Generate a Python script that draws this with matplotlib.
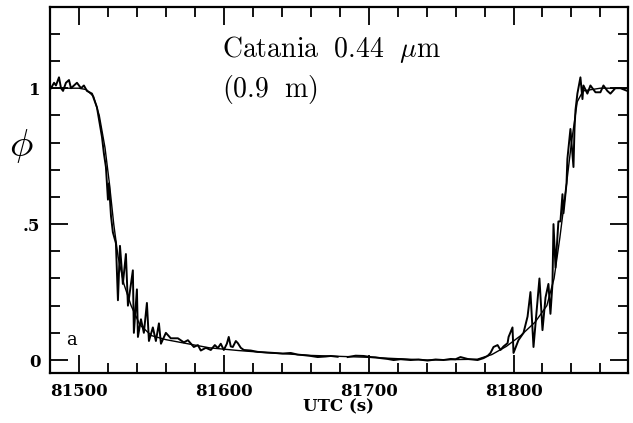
import matplotlib
matplotlib.use('Agg')
import matplotlib.pyplot as plt
import numpy as np

plt.rcParams['mathtext.fontset'] = 'cm'

# observed light curve (UTC seconds, normalised flux)
utc = [81480.7, 81482.8, 81484.1, 81486.2, 81487.6, 81489.0, 81491.0, 81493.1,
       81494.5, 81496.6, 81498.6, 81501.4, 81503.4, 81505.5, 81509.0, 81512.4,
       81515.9, 81517.2, 81518.6, 81520.0, 81520.7, 81522.1, 81523.4, 81525.5,
       81526.9, 81528.3, 81530.3, 81532.4, 81533.8, 81537.2, 81537.9, 81540.0,
       81540.7, 81542.8, 81544.8, 81546.9, 81548.3, 81551.0, 81553.1, 81555.2,
       81556.6, 81560.0, 81563.4, 81568.3, 81572.4, 81575.2, 81579.3, 81582.1,
       81584.1, 81587.6, 81591.0, 81593.8, 81595.9, 81597.9, 81600.0, 81602.1,
       81603.4, 81604.8, 81606.2, 81608.3, 81609.7, 81611.7, 81613.8, 81618.6,
       81623.4, 81629.0, 81634.5, 81640.7, 81646.2, 81651.0, 81655.2, 81660.0,
       81664.8, 81670.3, 81673.8, 81678.6, 81682.0, 81685.5, 81691.0, 81696.6,
       81701.4, 81704.8, 81708.3, 81713.1, 81717.2, 81722.1, 81729.0, 81734.5,
       81740.7, 81746.2, 81751.7, 81756.6, 81760.0, 81763.4, 81768.3, 81775.2,
       81779.3, 81782.1, 81784.1, 81786.2, 81789.0, 81791.0, 81793.1, 81795.9,
       81796.6, 81799.3, 81800.0, 81803.4, 81806.9, 81809.7, 81811.7, 81813.8,
       81815.2, 81817.9, 81820.0, 81822.1, 81824.1, 81825.5, 81826.9, 81827.6,
       81829.0, 81831.0, 81832.4, 81833.8, 81834.5, 81836.6, 81837.2, 81839.3,
       81841.4, 81842.1, 81842.8, 81844.1, 81846.2, 81847.6, 81848.3, 81851.0,
       81853.1, 81856.6, 81860.0, 81862.1, 81864.8, 81866.9, 81870.3, 81873.8,
       81878.6]
flux = [1.00, 1.02, 1.01, 1.04, 1.00, 0.99, 1.02, 1.03,
        1.00, 1.01, 1.02, 1.00, 1.01, 0.99, 0.98, 0.93,
        0.82, 0.76, 0.71, 0.59, 0.65, 0.53, 0.47, 0.43,
        0.22, 0.42, 0.28, 0.39, 0.20, 0.33, 0.10, 0.26,
        0.085, 0.15, 0.10, 0.21, 0.07, 0.12, 0.07, 0.135,
        0.06, 0.10, 0.08, 0.08, 0.065, 0.073, 0.048, 0.055,
        0.035, 0.045, 0.037, 0.055, 0.044, 0.06, 0.037, 0.06,
        0.085, 0.05, 0.048, 0.07, 0.062, 0.045, 0.037, 0.035,
        0.03, 0.028, 0.026, 0.024, 0.026, 0.02, 0.018, 0.015,
        0.011, 0.013, 0.015, 0.012, np.nan, 0.011, 0.016, 0.015,
        0.011, 0.01, 0.007, 0.004, 0.0, 0.003, 0.0, 0.002,
        -0.002, 0.002, 0.0, 0.004, 0.003, 0.011, 0.004, 0.0,
        0.007, 0.015, 0.026, 0.048, 0.055, 0.037, 0.05, 0.062,
        0.085, 0.12, 0.026, 0.073, 0.10, 0.16, 0.25, 0.048,
        0.135, 0.30, 0.11, 0.23, 0.28, 0.17, 0.28, 0.50,
        0.34, 0.51, 0.51, 0.61, 0.54, 0.65, 0.74, 0.85,
        0.71, 0.85, 0.92, 0.98, 1.04, 0.96, 1.01, 0.98,
        1.01, 0.985, 0.985, 1.01, 0.99, 0.98, 1.00, 1.00,
        0.99]

# second (smoother) trace
utc2 = [81480.7, 81500, 81505, 81510, 81514, 81518, 81521, 81524, 81527, 81531,
        81536, 81542, 81550, 81560, 81575, 81590, 81610, 81630, 81660, 81700,
        81740, 81775, 81785, 81795, 81805, 81815, 81823, 81828, 81832, 81836,
        81840, 81844, 81848, 81860, 81879]
flux2 = [1.0, 1.0, 0.995, 0.97, 0.90, 0.78, 0.65, 0.50, 0.38, 0.28,
         0.20, 0.13, 0.09, 0.075, 0.06, 0.045, 0.035, 0.027, 0.017, 0.01,
         0.0, 0.003, 0.02, 0.05, 0.09, 0.14, 0.20, 0.30, 0.45, 0.62,
         0.80, 0.95, 0.99, 1.0, 1.0]

fig = plt.figure(figsize=(6.33, 4.23), dpi=100)
ax = fig.add_axes([0.079, 0.118, 0.913, 0.865])

ax.plot(utc2, flux2, color='black', lw=1.0)
ax.plot(utc, flux, color='black', lw=1.4)

ax.set_xlim(81480.7, 81879)
ax.set_ylim(-0.048, 1.298)
ax.set_xticks([81500, 81600, 81700, 81800])
ax.set_xticks(np.arange(81480, 81880, 20), minor=True)
ax.set_yticks([0, 0.5, 1])
ax.set_yticklabels(['0', '.5', '1'])
ax.set_yticks(np.arange(0, 1.3, 0.1), minor=True)

ax.tick_params(which='both', direction='in', top=True, right=True, width=1.3)
ax.tick_params(which='major', length=13, pad=7)
ax.tick_params(which='minor', length=7)
for lab in ax.get_xticklabels() + ax.get_yticklabels():
    lab.set_family('DejaVu Serif')
    lab.set_fontweight('bold')
    lab.set_fontsize(12)
for s in ax.spines.values():
    s.set_linewidth(1.6)

ax.set_xlabel('UTC (s)', family='DejaVu Serif', fontweight='bold', fontsize=12, labelpad=-1)
ax.text(-0.05, 0.62, r'$\phi$', transform=ax.transAxes, fontsize=28,
        ha='center', va='center')
ax.text(0.298, 0.863, r'$\mathrm{Catania}\ \ 0.44\ \ \mu\mathrm{m}$',
        transform=ax.transAxes, fontsize=20)
ax.text(0.298, 0.754, r'$(0.9\ \ \mathrm{m})$', transform=ax.transAxes, fontsize=20)
ax.text(0.038, 0.09, 'a', transform=ax.transAxes, fontsize=13,
        family='DejaVu Serif', ha='center', va='center')

fig.savefig('out.png', dpi=100)
